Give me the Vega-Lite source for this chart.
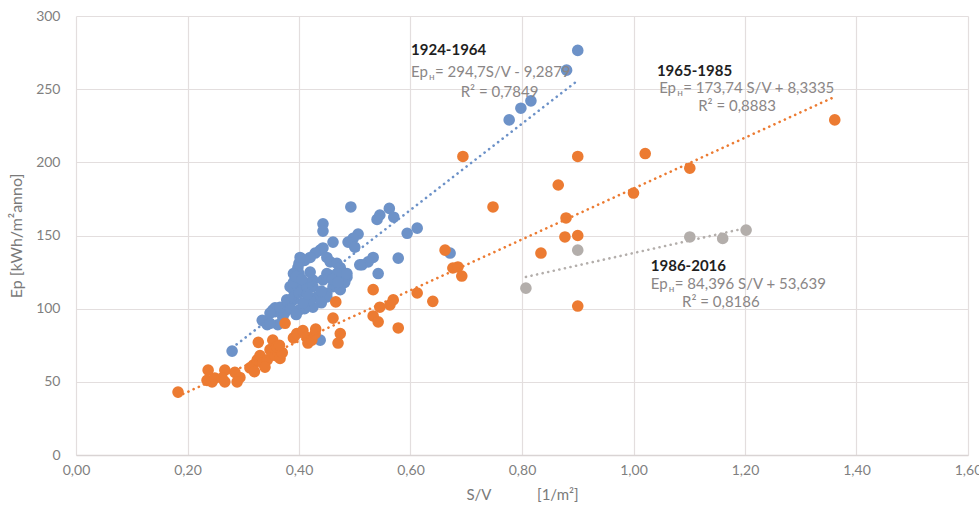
{
  "$schema": "https://vega.github.io/schema/vega-lite/v6.json",
  "width": 892,
  "height": 439,
  "autosize": {"type": "none"},
  "padding": {"left": 76, "top": 16, "right": 11, "bottom": 57},
  "background": "white",
  "config": {
    "view": {"stroke": null},
    "font": "Lato",
    "axis": {
      "labelFont": "Lato",
      "titleFont": "Lato",
      "labelColor": "#7f7f7f",
      "titleColor": "#7a7a7a",
      "labelFontSize": 14,
      "titleFontSize": 16,
      "titleFontWeight": "normal",
      "gridColor": "#e3dede",
      "gridWidth": 1.2,
      "ticks": false
    }
  },
  "datasets": {
    "pts": [
      {"s": "1924-1964", "x": 0.90, "y": 276.5},
      {"s": "1924-1964", "x": 0.88, "y": 263},
      {"s": "1924-1964", "x": 0.816, "y": 242},
      {"s": "1924-1964", "x": 0.798, "y": 237},
      {"s": "1924-1964", "x": 0.777, "y": 229},
      {"s": "1924-1964", "x": 0.493, "y": 169.5},
      {"s": "1924-1964", "x": 0.562, "y": 168.5},
      {"s": "1924-1964", "x": 0.545, "y": 164},
      {"s": "1924-1964", "x": 0.54, "y": 161},
      {"s": "1924-1964", "x": 0.57, "y": 162.5},
      {"s": "1924-1964", "x": 0.443, "y": 158},
      {"s": "1924-1964", "x": 0.443, "y": 153},
      {"s": "1924-1964", "x": 0.594, "y": 151.5},
      {"s": "1924-1964", "x": 0.612, "y": 155},
      {"s": "1924-1964", "x": 0.461, "y": 145.5},
      {"s": "1924-1964", "x": 0.506, "y": 151},
      {"s": "1924-1964", "x": 0.497, "y": 148},
      {"s": "1924-1964", "x": 0.488, "y": 145.5},
      {"s": "1924-1964", "x": 0.50, "y": 142},
      {"s": "1924-1964", "x": 0.533, "y": 135},
      {"s": "1924-1964", "x": 0.524, "y": 132},
      {"s": "1924-1964", "x": 0.513, "y": 130},
      {"s": "1924-1964", "x": 0.578, "y": 134.5},
      {"s": "1924-1964", "x": 0.542, "y": 124},
      {"s": "1924-1964", "x": 0.671, "y": 138},
      {"s": "1924-1964", "x": 0.28, "y": 71},
      {"s": "1924-1964", "x": 0.438, "y": 78.5},
      {"s": "1924-1964", "x": 0.438, "y": 140},
      {"s": "1924-1964", "x": 0.443, "y": 141.5},
      {"s": "1924-1964", "x": 0.429, "y": 138},
      {"s": "1924-1964", "x": 0.42, "y": 135},
      {"s": "1924-1964", "x": 0.41, "y": 133},
      {"s": "1924-1964", "x": 0.40, "y": 131},
      {"s": "1924-1964", "x": 0.402, "y": 135},
      {"s": "1924-1964", "x": 0.398, "y": 128},
      {"s": "1924-1964", "x": 0.40, "y": 124},
      {"s": "1924-1964", "x": 0.39, "y": 124},
      {"s": "1924-1964", "x": 0.45, "y": 135},
      {"s": "1924-1964", "x": 0.456, "y": 132},
      {"s": "1924-1964", "x": 0.468, "y": 131},
      {"s": "1924-1964", "x": 0.474, "y": 128},
      {"s": "1924-1964", "x": 0.479, "y": 124},
      {"s": "1924-1964", "x": 0.486, "y": 121.5},
      {"s": "1924-1964", "x": 0.482, "y": 118},
      {"s": "1924-1964", "x": 0.45, "y": 124},
      {"s": "1924-1964", "x": 0.425, "y": 119.5},
      {"s": "1924-1964", "x": 0.414, "y": 117.5},
      {"s": "1924-1964", "x": 0.396, "y": 115},
      {"s": "1924-1964", "x": 0.384, "y": 115},
      {"s": "1924-1964", "x": 0.39, "y": 113},
      {"s": "1924-1964", "x": 0.39, "y": 118},
      {"s": "1924-1964", "x": 0.395, "y": 122},
      {"s": "1924-1964", "x": 0.461, "y": 115},
      {"s": "1924-1964", "x": 0.468, "y": 115},
      {"s": "1924-1964", "x": 0.474, "y": 113},
      {"s": "1924-1964", "x": 0.45, "y": 110.5},
      {"s": "1924-1964", "x": 0.45, "y": 108},
      {"s": "1924-1964", "x": 0.432, "y": 108},
      {"s": "1924-1964", "x": 0.44, "y": 104},
      {"s": "1924-1964", "x": 0.425, "y": 101},
      {"s": "1924-1964", "x": 0.42, "y": 106},
      {"s": "1924-1964", "x": 0.41, "y": 100},
      {"s": "1924-1964", "x": 0.40, "y": 99},
      {"s": "1924-1964", "x": 0.407, "y": 104},
      {"s": "1924-1964", "x": 0.39, "y": 106},
      {"s": "1924-1964", "x": 0.384, "y": 104},
      {"s": "1924-1964", "x": 0.378, "y": 100},
      {"s": "1924-1964", "x": 0.378, "y": 106},
      {"s": "1924-1964", "x": 0.371, "y": 94},
      {"s": "1924-1964", "x": 0.353, "y": 99},
      {"s": "1924-1964", "x": 0.357, "y": 100.5},
      {"s": "1924-1964", "x": 0.357, "y": 98},
      {"s": "1924-1964", "x": 0.375, "y": 97.5},
      {"s": "1924-1964", "x": 0.34, "y": 91},
      {"s": "1924-1964", "x": 0.362, "y": 89},
      {"s": "1924-1964", "x": 0.334, "y": 92},
      {"s": "1924-1964", "x": 0.348, "y": 97},
      {"s": "1924-1964", "x": 0.366, "y": 101},
      {"s": "1924-1964", "x": 0.38, "y": 104},
      {"s": "1924-1964", "x": 0.39, "y": 108},
      {"s": "1924-1964", "x": 0.40, "y": 110.7},
      {"s": "1924-1964", "x": 0.414, "y": 115},
      {"s": "1924-1964", "x": 0.425, "y": 115},
      {"s": "1924-1964", "x": 0.443, "y": 119.6},
      {"s": "1924-1964", "x": 0.468, "y": 124},
      {"s": "1924-1964", "x": 0.486, "y": 124},
      {"s": "1924-1964", "x": 0.509, "y": 130},
      {"s": "1924-1964", "x": 0.343, "y": 89},
      {"s": "1924-1964", "x": 0.348, "y": 90},
      {"s": "1924-1964", "x": 0.42, "y": 125},
      {"s": "1924-1964", "x": 0.405, "y": 120},
      {"s": "1924-1964", "x": 0.415, "y": 110},
      {"s": "1924-1964", "x": 0.44, "y": 112},
      {"s": "1924-1964", "x": 0.46, "y": 120},
      {"s": "1924-1964", "x": 0.47, "y": 118},
      {"s": "1924-1964", "x": 0.385, "y": 100},
      {"s": "1924-1964", "x": 0.395, "y": 96},
      {"s": "1965-1985", "x": 0.183, "y": 43},
      {"s": "1965-1985", "x": 0.237, "y": 58},
      {"s": "1965-1985", "x": 0.235, "y": 51},
      {"s": "1965-1985", "x": 0.244, "y": 50},
      {"s": "1965-1985", "x": 0.249, "y": 52.5},
      {"s": "1965-1985", "x": 0.267, "y": 58},
      {"s": "1965-1985", "x": 0.267, "y": 50},
      {"s": "1965-1985", "x": 0.262, "y": 52.5},
      {"s": "1965-1985", "x": 0.285, "y": 56.5},
      {"s": "1965-1985", "x": 0.294, "y": 53},
      {"s": "1965-1985", "x": 0.289, "y": 50},
      {"s": "1965-1985", "x": 0.312, "y": 59.5},
      {"s": "1965-1985", "x": 0.318, "y": 61.5},
      {"s": "1965-1985", "x": 0.325, "y": 65},
      {"s": "1965-1985", "x": 0.33, "y": 68},
      {"s": "1965-1985", "x": 0.32, "y": 57},
      {"s": "1965-1985", "x": 0.335, "y": 63},
      {"s": "1965-1985", "x": 0.327, "y": 77},
      {"s": "1965-1985", "x": 0.343, "y": 65},
      {"s": "1965-1985", "x": 0.339, "y": 60},
      {"s": "1965-1985", "x": 0.348, "y": 72},
      {"s": "1965-1985", "x": 0.353, "y": 78.5},
      {"s": "1965-1985", "x": 0.357, "y": 68},
      {"s": "1965-1985", "x": 0.366, "y": 66},
      {"s": "1965-1985", "x": 0.37, "y": 70},
      {"s": "1965-1985", "x": 0.36, "y": 74},
      {"s": "1965-1985", "x": 0.365, "y": 75},
      {"s": "1965-1985", "x": 0.375, "y": 90},
      {"s": "1965-1985", "x": 0.39, "y": 80},
      {"s": "1965-1985", "x": 0.396, "y": 83},
      {"s": "1965-1985", "x": 0.407, "y": 85},
      {"s": "1965-1985", "x": 0.414, "y": 80.5},
      {"s": "1965-1985", "x": 0.416, "y": 76.5},
      {"s": "1965-1985", "x": 0.423, "y": 78.5},
      {"s": "1965-1985", "x": 0.429, "y": 83},
      {"s": "1965-1985", "x": 0.43, "y": 86},
      {"s": "1965-1985", "x": 0.461, "y": 93.5},
      {"s": "1965-1985", "x": 0.474, "y": 83},
      {"s": "1965-1985", "x": 0.47, "y": 76.5},
      {"s": "1965-1985", "x": 0.466, "y": 104.6},
      {"s": "1965-1985", "x": 0.533, "y": 113},
      {"s": "1965-1985", "x": 0.533, "y": 95},
      {"s": "1965-1985", "x": 0.542, "y": 91},
      {"s": "1965-1985", "x": 0.545, "y": 101},
      {"s": "1965-1985", "x": 0.563, "y": 102.5},
      {"s": "1965-1985", "x": 0.569, "y": 106},
      {"s": "1965-1985", "x": 0.578, "y": 86.8},
      {"s": "1965-1985", "x": 0.612, "y": 110.7},
      {"s": "1965-1985", "x": 0.64, "y": 105},
      {"s": "1965-1985", "x": 0.662, "y": 140},
      {"s": "1965-1985", "x": 0.676, "y": 127.8},
      {"s": "1965-1985", "x": 0.685, "y": 128.5},
      {"s": "1965-1985", "x": 0.692, "y": 122.3},
      {"s": "1965-1985", "x": 0.694, "y": 204},
      {"s": "1965-1985", "x": 0.90, "y": 204},
      {"s": "1965-1985", "x": 1.021, "y": 206},
      {"s": "1965-1985", "x": 1.101, "y": 196},
      {"s": "1965-1985", "x": 0.865, "y": 184.5},
      {"s": "1965-1985", "x": 0.748, "y": 169.5},
      {"s": "1965-1985", "x": 1.00, "y": 179},
      {"s": "1965-1985", "x": 0.879, "y": 162},
      {"s": "1965-1985", "x": 0.877, "y": 149},
      {"s": "1965-1985", "x": 0.90, "y": 150},
      {"s": "1965-1985", "x": 0.834, "y": 138},
      {"s": "1965-1985", "x": 0.90, "y": 101.8},
      {"s": "1965-1985", "x": 1.361, "y": 229},
      {"s": "1986-2016", "x": 0.807, "y": 114},
      {"s": "1986-2016", "x": 0.90, "y": 140},
      {"s": "1986-2016", "x": 1.101, "y": 149},
      {"s": "1986-2016", "x": 1.16, "y": 148},
      {"s": "1986-2016", "x": 1.202, "y": 153.7}
    ],
    "trend": [
      {"s": "1924-1964", "x": 0.28, "y": 73.2},
      {"s": "1924-1964", "x": 0.90, "y": 255.9},
      {"s": "1965-1985", "x": 0.183, "y": 40.1},
      {"s": "1965-1985", "x": 1.361, "y": 244.8},
      {"s": "1986-2016", "x": 0.807, "y": 121.7},
      {"s": "1986-2016", "x": 1.202, "y": 155.1}
    ],
    "titles": [
      {"t": "1924-1964", "x": 0.601, "y": 276.5},
      {"t": "1965-1985", "x": 1.042, "y": 262.4},
      {"t": "1986-2016", "x": 1.031, "y": 129.2}
    ],
    "eqs": [
      {"ep": "Ep", "sub": "н", "rest": "= 294,7S/V - 9,2879", "x": 0.601, "y": 262},
      {"ep": "Ep", "sub": "н", "rest": "= 173,74 S/V + 8,3335", "x": 1.046, "y": 250.8},
      {"ep": "Ep", "sub": "н", "rest": " = 84,396 S/V + 53,639", "x": 1.031, "y": 116.9}
    ],
    "r2": [
      {"t": "R² = 0,7849", "x": 0.69, "y": 248},
      {"t": "R² = 0,8883", "x": 1.116, "y": 238.5},
      {"t": "R² = 0,8186", "x": 1.087, "y": 104.6}
    ]
  },
  "layer": [
    {
      "data": {"name": "pts"},
      "mark": {"type": "circle", "size": 135, "opacity": 1},
      "encoding": {
        "x": {
          "field": "x", "type": "quantitative",
          "scale": {"domain": [0, 1.6], "nice": false},
          "axis": {
            "values": [0, 0.2, 0.4, 0.6, 0.8, 1.0, 1.2, 1.4, 1.6],
            "labelExpr": "replace(format(datum.value, '.2f'), '.', ',')",
            "title": "S/V\u00a0\u00a0\u00a0\u00a0\u00a0\u00a0\u00a0\u00a0\u00a0\u00a0\u00a0\u00a0[1/m²]",
            "titleFontSize": 15,
            "labelPadding": 8,
            "titlePadding": 10,
            "domainColor": "#d9d4d4",
            "domainWidth": 1.5,
            "labelFlush": false
          }
        },
        "y": {
          "field": "y", "type": "quantitative",
          "scale": {"domain": [0, 300], "nice": false},
          "axis": {
            "values": [0, 50, 100, 150, 200, 250, 300],
            "title": "Ep [kWh/m²anno]",
            "domain": false,
            "labelPadding": 16,
            "titlePadding": 11
          }
        },
        "color": {
          "field": "s", "type": "nominal",
          "scale": {"domain": ["1924-1964", "1965-1985", "1986-2016"], "range": ["#6d92c8", "#ec7b32", "#b3aeab"]},
          "legend": null
        }
      }
    },
    {
      "data": {"name": "trend"},
      "mark": {"type": "line", "strokeWidth": 2.6, "strokeDash": [0.1, 5.6], "strokeCap": "round"},
      "encoding": {
        "x": {"field": "x", "type": "quantitative"},
        "y": {"field": "y", "type": "quantitative"},
        "detail": {"field": "s"},
        "color": {"field": "s", "type": "nominal", "legend": null}
      }
    },
    {
      "data": {"name": "titles"},
      "mark": {"type": "text", "align": "left", "baseline": "middle", "font": "Lato", "fontSize": 15, "fontWeight": "bold", "color": "#1f1f1f"},
      "encoding": {
        "x": {"field": "x", "type": "quantitative"},
        "y": {"field": "y", "type": "quantitative"},
        "text": {"field": "t"}
      }
    },
    {
      "data": {"name": "eqs"},
      "mark": {"type": "text", "align": "left", "baseline": "middle", "font": "Lato", "fontSize": 15, "color": "#8a8686"},
      "encoding": {
        "x": {"field": "x", "type": "quantitative"},
        "y": {"field": "y", "type": "quantitative"},
        "text": {"field": "ep"}
      }
    },
    {
      "data": {"name": "eqs"},
      "mark": {"type": "text", "align": "left", "baseline": "middle", "font": "Lato", "fontSize": 10, "dx": 18, "dy": 5, "color": "#8a8686"},
      "encoding": {
        "x": {"field": "x", "type": "quantitative"},
        "y": {"field": "y", "type": "quantitative"},
        "text": {"field": "sub"}
      }
    },
    {
      "data": {"name": "eqs"},
      "mark": {"type": "text", "align": "left", "baseline": "middle", "font": "Lato", "fontSize": 15, "dx": 24, "color": "#8a8686"},
      "encoding": {
        "x": {"field": "x", "type": "quantitative"},
        "y": {"field": "y", "type": "quantitative"},
        "text": {"field": "rest"}
      }
    },
    {
      "data": {"name": "r2"},
      "mark": {"type": "text", "align": "left", "baseline": "middle", "font": "Lato", "fontSize": 15, "color": "#8a8686"},
      "encoding": {
        "x": {"field": "x", "type": "quantitative"},
        "y": {"field": "y", "type": "quantitative"},
        "text": {"field": "t"}
      }
    }
  ]
}
